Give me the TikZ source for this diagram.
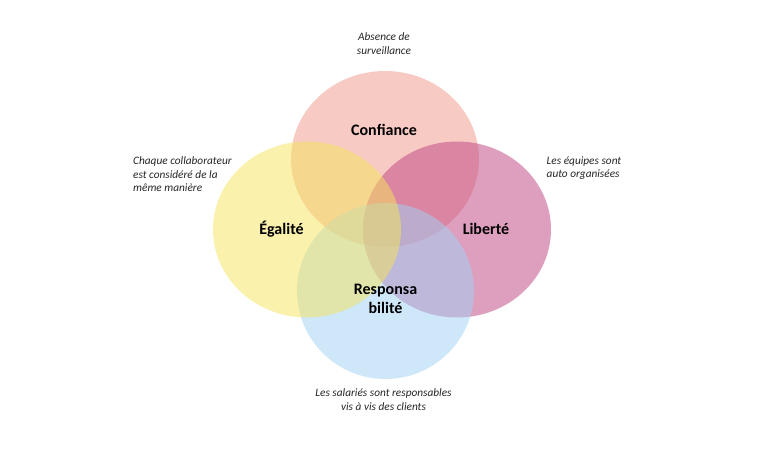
\documentclass[tikz,border=0pt]{standalone}
\usepackage{fontspec}
\setmainfont{Carlito}
\usetikzlibrary{shapes.geometric}
\definecolor{cpink}{RGB}{241,151,137}
\definecolor{cyellow}{RGB}{245,229,90}
\definecolor{cmag}{RGB}{191,65,129}
\definecolor{cblue}{RGB}{159,209,245}
\begin{document}
\begin{tikzpicture}[x=1pt,y=-1pt,
  blob/.style={ellipse,draw=none,fill opacity=0.5,inner sep=0pt,minimum width=188pt,minimum height=176pt},
  lbl/.style={font=\bfseries\fontsize{16}{19}\selectfont,text=black,align=center,inner sep=0pt},
  note/.style={font=\itshape\fontsize{11.3}{13.5}\selectfont,text=black!85,inner sep=0pt}]
\useasboundingbox (0,0) rectangle (768,473);
\fill[white] (0,0) rectangle (768,473);
\node[blob,fill=cpink] (conf) at (385,159) {};
\node[blob,fill=cmag] (lib) at (457,229.5) {};
\node[blob,fill=cblue,minimum width=177pt] (resp) at (385.5,291) {};
\node[blob,fill=cyellow] (ega) at (307,229.5) {};
\node[lbl] (tconf) at (384,130) {Confiance};
\node[lbl] (tega) at (281.5,229) {Égalité};
\node[lbl] (tlib) at (486,229) {Liberté};
\node[lbl] (tresp) at (385.5,298.5) {Responsa\\bilité};
\node[note,align=center] (nconf) at (384,43.5) {Absence de\\surveillance};
\node[note,align=left,anchor=west] (nega) at (133,174.5) {Chaque collaborateur\\est considéré de la\\même manière};
\node[note,align=left,anchor=west] (nlib) at (546.5,168) {Les équipes sont\\auto organisées};
\node[note,align=center] (nresp) at (383.5,399.5) {Les salariés sont responsables\\vis à vis des clients};
\end{tikzpicture}
\end{document}
